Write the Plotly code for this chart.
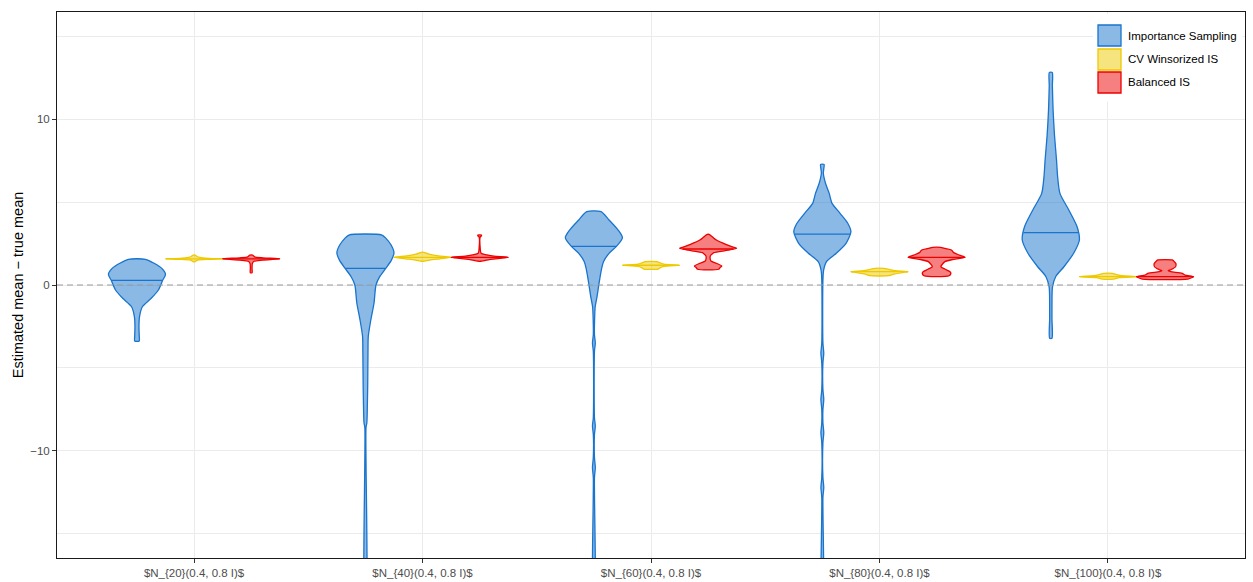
"""Violin comparison of estimators (estimated mean - true mean)."""

import numpy as np
import plotly.graph_objects as go

categories = [
    "$N_{20}(0.4, 0.8 I)$",
    "$N_{40}(0.4, 0.8 I)$",
    "$N_{60}(0.4, 0.8 I)$",
    "$N_{80}(0.4, 0.8 I)$",
    "$N_{100}(0.4, 0.8 I)$",
]
methods = ["Importance Sampling", "CV Winsorized IS", "Balanced IS"]

# density profiles: y values and relative width (max = 1)
is_y = [
    [-3.37, -3.1, -2.5, -1.9, -1.31, -0.8, -0.3, 0.28, 0.64, 1.0, 1.31, 1.55],
    [-20, -8.6, -8.3, -7.0, -6.0, -4.0, -3.1, -2.1, -1.1, 0.0, 0.5, 1.0, 1.5, 1.95, 2.41, 2.81, 3.01],
    [-20, -11.6, -11.0, -10.4, -9.0, -8.5, -8.0, -4.0, -3.5, -3.0, -1.8, -1.31, -0.7, 0.1, 0.9, 1.41,
     1.91, 2.33, 2.85, 3.31, 3.92, 4.42],
    [-20, -12.8, -12.2, -11.6, -9.5, -8.9, -8.3, -7.5, -6.9, -6.3, -4.7, -4.1, -3.5, 0.3, 0.9, 1.41,
     1.91, 2.51, 3.21, 3.72, 4.32, 4.92, 5.52, 6.13, 6.73, 7.0, 7.27],
    [-3.21, -2.0, -0.5, -0.1, 0.5, 1.1, 1.91, 2.71, 3.51, 4.52, 5.52, 6.5, 7.53, 9.0, 10.54, 12.0, 12.81],
]
is_w = [
    [0.08, 0.08, 0.07, 0.09, 0.19, 0.5, 0.75, 0.9, 1.0, 0.87, 0.6, 0.3],
    [0.02, 0.02, 0.05, 0.07, 0.08, 0.09, 0.1, 0.19, 0.3, 0.37, 0.5, 0.71, 0.91, 1.0, 0.9, 0.72, 0.58],
    [0.02, 0.02, 0.05, 0.02, 0.02, 0.05, 0.02, 0.02, 0.05, 0.02, 0.03, 0.045, 0.11, 0.18, 0.26, 0.34,
     0.53, 0.79, 1.0, 0.85, 0.53, 0.25],
    [0.02, 0.02, 0.05, 0.02, 0.02, 0.05, 0.02, 0.02, 0.05, 0.02, 0.02, 0.05, 0.02, 0.02, 0.045, 0.145,
     0.49, 0.83, 1.0, 0.89, 0.62, 0.34, 0.24, 0.11, 0.035, 0.05, 0.06],
    [0.04, 0.04, 0.045, 0.06, 0.17, 0.46, 0.8, 1.0, 0.92, 0.63, 0.32, 0.24, 0.2, 0.13, 0.08, 0.055, 0.05],
]
is_median = [0.28, 1.0, 2.33, 3.07, 3.15]

cv_y = [
    [1.4, 1.5, 1.55, 1.58, 1.61, 1.66, 1.72, 1.8],
    [1.43, 1.5, 1.58, 1.67, 1.76, 1.86, 1.97],
    [0.96, 1.02, 1.12, 1.19, 1.26, 1.35, 1.41],
    [0.56, 0.65, 0.75, 0.8, 0.86, 0.93, 1.0],
    [0.36, 0.45, 0.5, 0.56, 0.63, 0.7],
]
cv_w = [
    [0.03, 0.12, 0.55, 1.0, 0.5, 0.2, 0.1, 0.03],
    [0.03, 0.25, 0.6, 1.0, 0.55, 0.22, 0.04],
    [0.25, 0.3, 0.45, 1.0, 0.45, 0.3, 0.2],
    [0.3, 0.5, 0.8, 1.0, 0.55, 0.35, 0.15],
    [0.2, 0.4, 1.0, 0.5, 0.3, 0.15],
]
cv_median = [1.58, 1.67, 1.19, 0.8, 0.5]

bis_y = [
    [0.74, 1.0, 1.3, 1.43, 1.5, 1.58, 1.64, 1.7, 1.76, 1.8],
    [1.43, 1.52, 1.6, 1.67, 1.74, 1.82, 1.91, 2.2, 2.9, 2.95, 3.01],
    [0.95, 1.05, 1.14, 1.31, 1.45, 1.61, 1.76, 1.91, 1.95, 2.07, 2.1, 2.21, 2.3, 2.45, 2.71, 2.9, 3.05],
    [0.56, 0.7, 0.8, 0.95, 1.1, 1.25, 1.41, 1.55, 1.67, 1.8, 1.95, 2.11, 2.2, 2.27],
    [0.36, 0.45, 0.5, 0.6, 0.7, 0.8, 0.86, 0.92, 1.1, 1.3, 1.45, 1.51],
]
bis_w = [
    [0.03, 0.03, 0.04, 0.1, 0.4, 1.0, 0.4, 0.12, 0.08, 0.05],
    [0.03, 0.3, 0.7, 1.0, 0.5, 0.25, 0.05, 0.02, 0.02, 0.06, 0.06],
    [0.37, 0.42, 0.48, 0.29, 0.1, 0.07, 0.08, 0.17, 0.2, 0.6, 0.7, 1.0, 0.85, 0.62, 0.29, 0.15, 0.03],
    [0.44, 0.5, 0.47, 0.3, 0.15, 0.2, 0.29, 0.6, 1.0, 0.8, 0.6, 0.52, 0.3, 0.14],
    [0.8, 0.95, 1.0, 0.7, 0.6, 0.2, 0.11, 0.2, 0.37, 0.38, 0.3, 0.25],
]
bis_median = [1.58, 1.67, 2.17, 1.67, 0.5]

profiles = {
    "Importance Sampling": (is_y, is_w, is_median),
    "CV Winsorized IS": (cv_y, cv_w, cv_median),
    "Balanced IS": (bis_y, bis_w, bis_median),
}
line_colors = {"Importance Sampling": "#1874CD", "CV Winsorized IS": "#EEC900", "Balanced IS": "#EE0000"}
fill_colors = {
    "Importance Sampling": "rgba(24,116,205,0.5)",
    "CV Winsorized IS": "rgba(238,201,0,0.5)",
    "Balanced IS": "rgba(238,0,0,0.5)",
}
offsets = {"Importance Sampling": -0.25, "CV Winsorized IS": 0.0, "Balanced IS": 0.25}
half_width = 0.125

fig = go.Figure()
for m in methods:
    ys_all, ws_all, meds = profiles[m]
    for i, (ys, ws, med) in enumerate(zip(ys_all, ws_all, meds)):
        c = i + offsets[m]
        xs = [c + half_width * w for w in ws] + [c - half_width * w for w in ws[::-1]]
        yy = list(ys) + list(ys[::-1])
        fig.add_trace(go.Scatter(
            x=xs + [xs[0]], y=yy + [yy[0]], mode="lines", fill="toself",
            fillcolor=fill_colors[m], line=dict(color=line_colors[m], width=1.3, shape="spline", smoothing=0.7),
            showlegend=False, hoverinfo="skip",
        ))
        wm = float(np.interp(med, ys, ws)) * half_width
        fig.add_trace(go.Scatter(
            x=[c - wm, c + wm], y=[med, med], mode="lines",
            line=dict(color=line_colors[m], width=1.3), showlegend=False, hoverinfo="skip",
        ))

# dashed reference at zero
fig.add_shape(type="line", xref="paper", x0=0, x1=1, yref="y", y0=0, y1=0,
              line=dict(color="#999999", width=1.2, dash="6px,4px"), layer="above")

# legend drawn by hand (ggplot style square keys)
fig.add_shape(type="rect", xref="paper", yref="paper", x0=0.872, x1=0.998, y0=0.836, y1=0.997,
              fillcolor="white", line=dict(width=0), layer="above")
key_tops = [25, 49, 72]
for m, top in zip(methods, key_tops):
    y1 = (558 - top) / 546
    y0 = (558 - top - 21) / 546
    fig.add_shape(type="rect", xref="paper", yref="paper", x0=(1098 - 57) / 1188, x1=(1121 - 57) / 1188,
                  y0=y0, y1=y1, fillcolor=fill_colors[m], line=dict(color=line_colors[m], width=1.3),
                  layer="above")
    fig.add_annotation(xref="paper", yref="paper", x=(1126 - 57) / 1188, y=(y0 + y1) / 2, text=m,
                       showarrow=False, xanchor="left", yanchor="middle",
                       font=dict(size=11.5, color="black"))

axis_common = dict(
    showline=True, linecolor="#1a1a1a", linewidth=1, mirror=True,
    ticks="outside", ticklen=4, tickcolor="#333333", tickwidth=1,
    showgrid=True, gridcolor="#EBEBEB", gridwidth=1, zeroline=False,
    tickfont=dict(size=11.5, color="#4D4D4D"),
)
fig.update_xaxes(axis_common, range=[-0.6, 4.6], tickvals=list(range(len(categories))), ticktext=categories)
fig.update_yaxes(
    axis_common, range=[-16.45, 16.45], tickvals=[-10, 0, 10],
    minor=dict(tickvals=[-15, -5, 5, 15], showgrid=True, gridcolor="#EBEBEB", gridwidth=1, ticks=""),
    title=dict(text="Estimated mean − true mean", font=dict(size=14.5, color="black"), standoff=3),
)
fig.update_layout(
    width=1253, height=582,
    margin=dict(l=57, r=8, t=12, b=24, autoexpand=False),
    plot_bgcolor="white", paper_bgcolor="white",
    font=dict(family="Liberation Sans, Arial, sans-serif"),
    showlegend=False,
)
fig.update_yaxes(automargin=False)
fig.update_xaxes(automargin=False)

# the page body has a default 8px margin; drop it so the figure sits at the window corner
fig.write_html("out.html", config={"displayModeBar": False},
               post_script="document.body.style.margin='0';")
